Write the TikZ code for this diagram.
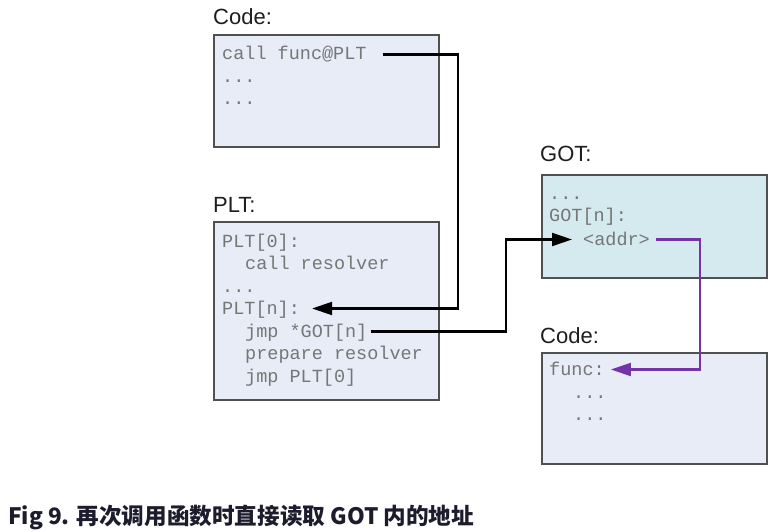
\documentclass[tikz,border=0pt]{standalone}
\usepackage{fontspec}
\setmainfont{Liberation Sans}
\newfontfamily\codefont{Liberation Mono}
\newfontfamily\cjk{Noto Sans CJK SC}
\usetikzlibrary{arrows.meta}
\definecolor{boxgray}{RGB}{80,80,80}
\definecolor{codefill}{RGB}{231,236,247}
\definecolor{gotfill}{RGB}{213,234,239}
\definecolor{codegray}{RGB}{118,118,118}
\definecolor{labelgray}{RGB}{30,30,30}
\definecolor{callpurple}{RGB}{116,52,168}
\definecolor{capnavy}{RGB}{28,28,45}
\tikzset{link/.style={draw, line width=2.1pt, -{Triangle[length=20pt,width=13pt]}}}
\begin{document}
\begin{tikzpicture}[x=1pt,y=-1pt]
    \useasboundingbox (0,0) rectangle (782,532);
    \begin{scope}
        \tikzstyle{every node}=[draw=boxgray, line width=1.5pt, rectangle, minimum width=225pt, inner sep=0pt]
        \node[fill=codefill, minimum height=112pt] (code) at (326.5,91) {};
        \node[fill=codefill, minimum height=178pt] (plt) at (326.5,311) {};
        \node[fill=gotfill, minimum height=103pt] (got) at (654.5,226.5) {};
        \node[fill=codefill, minimum height=111pt] (func) at (654.5,408.5) {};
    \end{scope}
    \begin{scope}
        \tikzstyle{every node}=[anchor=base west, inner sep=0pt, text=labelgray, font=\fontsize{22}{22}\selectfont]
        \node (codelbl) at (213,25) {Code:};
        \node (pltlbl) at (213,212) {PLT:};
        \node (gotlbl) at (540,162) {GOT:};
        \node (funclbl) at (540,343) {Code:};
    \end{scope}
    \begin{scope}
        \tikzstyle{every node}=[anchor=base west, inner sep=0pt, text height=12pt, text depth=1pt, text=codegray, font=\codefont\fontsize{18.5}{18.5}\selectfont]
        % Code
        \node (callf) at (222,60) {call func@PLT};
        \node (cdots1) at (222,83) {...};
        \node (cdots2) at (222,105) {...};
        % PLT
        \node (plt0) at (222,247) {PLT[0]:};
        \node (callres) at (245,269) {call resolver};
        \node (pdots) at (222,292) {...};
        \node (pltn) at (222,314) {PLT[n]:};
        \node (jmpgot) at (245,337) {jmp *GOT[n]};
        \node (prep) at (245,359) {prepare resolver};
        \node (jmpplt) at (245,382) {jmp PLT[0]};
        % GOT
        \node (gdots) at (549,199) {...};
        \node (gotn) at (549,222) {GOT[n]:};
        \node (addr) at (583,245) {<addr>};
        % func
        \node (funcn) at (549,375) {func:};
        \node (fdots1) at (573,398) {...};
        \node (fdots2) at (573,420) {...};
    \end{scope}
    \node[anchor=base west, inner sep=0pt, text=capnavy, font=\cjk\bfseries\fontsize{22.6}{22.6}\selectfont] (caption) at (8,524) {Fig 9. 再次调用函数时直接读取 GOT 内的地址};
    \coordinate (bend1) at (458,0);
    \coordinate (bend2) at (506,0);
    \coordinate (bend3) at (700,0);
    \draw[link, shorten <=16pt, shorten >=12pt] (callf.east) -| (bend1 |- pltn.east) -- (pltn.east);
    \draw[link, shorten <=3pt, shorten >=11pt] (jmpgot.east) -| (bend2 |- addr.west) -- (addr.west);
    \draw[link, callpurple, shorten <=6pt, shorten >=6pt] (addr.east) -| (bend3 |- funcn.east) -- (funcn.east);
\end{tikzpicture}
\end{document}
